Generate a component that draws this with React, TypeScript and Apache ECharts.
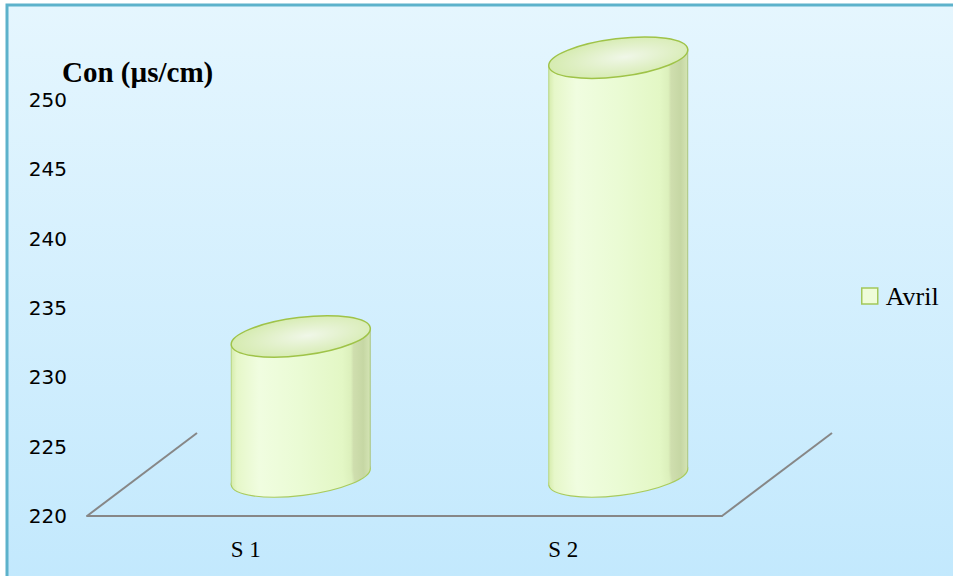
import React, { useEffect, useRef } from 'react';
import * as echarts from 'echarts';

const categories = ['S 1', 'S 2'];
const seriesName = 'Avril';
const values = [230.1, 250.2];
const yMin = 220;
const yMax = 250;
const yStep = 5;
const yTitle = 'Con (µs/cm)';

export default function App() {
  const ref = useRef<HTMLDivElement>(null);

  useEffect(() => {
    const chart = echarts.init(ref.current as HTMLDivElement, null, { renderer: 'svg' });

    const DX = 110;
    const DY = -83;
    const A = 70;
    const B = 19;
    const ROT = (7 * Math.PI) / 180;
    const ux = Math.cos(ROT);
    const uy = -Math.sin(ROT);

    const bodyFill = {
      type: 'linear', x: 0, y: 0, x2: 1, y2: 0,
      colorStops: [
        { offset: 0, color: '#d6ecad' },
        { offset: 0.04, color: '#e6f7c9' },
        { offset: 0.2, color: '#f0fde0' },
        { offset: 0.5, color: '#eafbd4' },
        { offset: 0.8, color: '#e3f7c5' },
        { offset: 0.86, color: '#dcf0bc' },
        { offset: 0.88, color: '#cfdeae' },
        { offset: 0.95, color: '#c6d7a4' },
        { offset: 1, color: '#d4e4b4' },
      ],
    };
    const topFill = {
      type: 'radial', x: 0.55, y: 0.5, r: 0.6,
      colorStops: [
        { offset: 0, color: '#f0f7e8' },
        { offset: 1, color: '#d3eaab' },
      ],
    };

    const renderItem = (params: any, api: any) => {
      const idx = api.value(0);
      const v = api.value(1);
      const top = api.coord([idx, v]);
      const bot = api.coord([idx, yMin]);
      const ox = DX / 2;
      const oy = DY / 2 + 2;
      const tx = top[0] + ox;
      const ty = top[1] + oy;
      const bx = bot[0] + ox;
      const by = bot[1] + oy;
      const children: any[] = [];
      if (params.dataIndex === 0) {
        const cs = params.coordSys;
        const fy = cs.y + cs.height;
        children.push({
          type: 'line',
          shape: { x1: cs.x, y1: fy, x2: cs.x + DX, y2: fy + DY },
          style: { stroke: '#878787', lineWidth: 2 },
        });
        children.push({
          type: 'line',
          shape: { x1: cs.x + cs.width, y1: fy, x2: cs.x + cs.width + DX, y2: fy + DY },
          style: { stroke: '#878787', lineWidth: 2 },
        });
      }
      children.push({
        type: 'ellipse',
        x: bx, y: by, rotation: ROT,
        shape: { cx: 0, cy: 0, rx: A, ry: B },
        style: { fill: bodyFill, stroke: '#a9cb5c', lineWidth: 1.2 },
      });
      children.push({
        type: 'polygon',
        shape: {
          points: [
            [tx - A * ux, ty - A * uy],
            [tx + A * ux, ty + A * uy],
            [bx + A * ux, by + A * uy],
            [bx - A * ux, by - A * uy],
          ],
        },
        style: { fill: bodyFill },
      });
      children.push({
        type: 'line',
        shape: { x1: tx - A * ux, y1: ty - A * uy, x2: bx - A * ux, y2: by - A * uy },
        style: { stroke: '#b9d680', lineWidth: 1 },
      });
      children.push({
        type: 'line',
        shape: { x1: tx + A * ux, y1: ty + A * uy, x2: bx + A * ux, y2: by + A * uy },
        style: { stroke: '#aac47e', lineWidth: 1 },
      });
      children.push({
        type: 'ellipse',
        x: tx, y: ty, rotation: ROT,
        shape: { cx: 0, cy: 0, rx: A, ry: B },
        style: { fill: topFill, stroke: '#9fc348', lineWidth: 1.5 },
      });
      return { type: 'group', children };
    };

    chart.setOption({
      animation: false,
      backgroundColor: '#ffffff',
      graphic: [
        {
          type: 'rect',
          z: -10,
          silent: true,
          shape: { x: 7, y: 5, width: 960, height: 600 },
          style: {
            fill: {
              type: 'linear', x: 0, y: 0, x2: 0, y2: 1,
              colorStops: [
                { offset: 0, color: '#e5f6fe' },
                { offset: 1, color: '#c1e8fd' },
              ],
            },
            stroke: '#5db2cb',
            lineWidth: 3,
          },
        },
      ],
      title: {
        text: yTitle,
        left: 57,
        top: 52,
        textStyle: { fontFamily: 'Liberation Serif', fontWeight: 'bold', fontSize: 29, color: '#000' },
      },
      legend: {
        orient: 'vertical',
        left: 856,
        top: 278,
        icon: 'rect',
        itemWidth: 16,
        itemHeight: 16,
        textStyle: { fontFamily: 'Liberation Serif', fontSize: 26, color: '#000', padding: [0, 0, 0, 3] },
        data: [{ name: seriesName, itemStyle: { color: '#effcd9', borderColor: '#a3c75a', borderWidth: 1.5 } }],
      },
      grid: { left: 87, right: 231, top: 100, bottom: 60 },
      xAxis: {
        type: 'category',
        data: categories,
        axisLine: { show: true, lineStyle: { color: '#878787', width: 2 } },
        axisTick: { show: false },
        axisLabel: { fontFamily: 'Liberation Serif', fontSize: 23, color: '#000', margin: 22 },
        splitLine: { show: false },
      },
      yAxis: {
        type: 'value',
        min: yMin,
        max: yMax,
        interval: yStep,
        axisLine: { show: false },
        axisTick: { show: false },
        splitLine: { show: false },
        axisLabel: { fontFamily: 'DejaVu Sans', fontSize: 20, color: '#000', margin: 20 },
      },
      series: [
        {
          type: 'custom',
          name: seriesName,
          renderItem,
          itemStyle: { color: '#effcd9', borderColor: '#a3c75a', borderWidth: 1.5 },
          encode: { x: 0, y: 1 },
          data: values.map((v, i) => [i, v]),
        },
      ],
    } as any);

    return () => chart.dispose();
  }, []);

  return (
    <div
      ref={ref}
      style={{ position: 'fixed', left: 0, top: 0, width: 953, height: 576 }}
    />
  );
}
